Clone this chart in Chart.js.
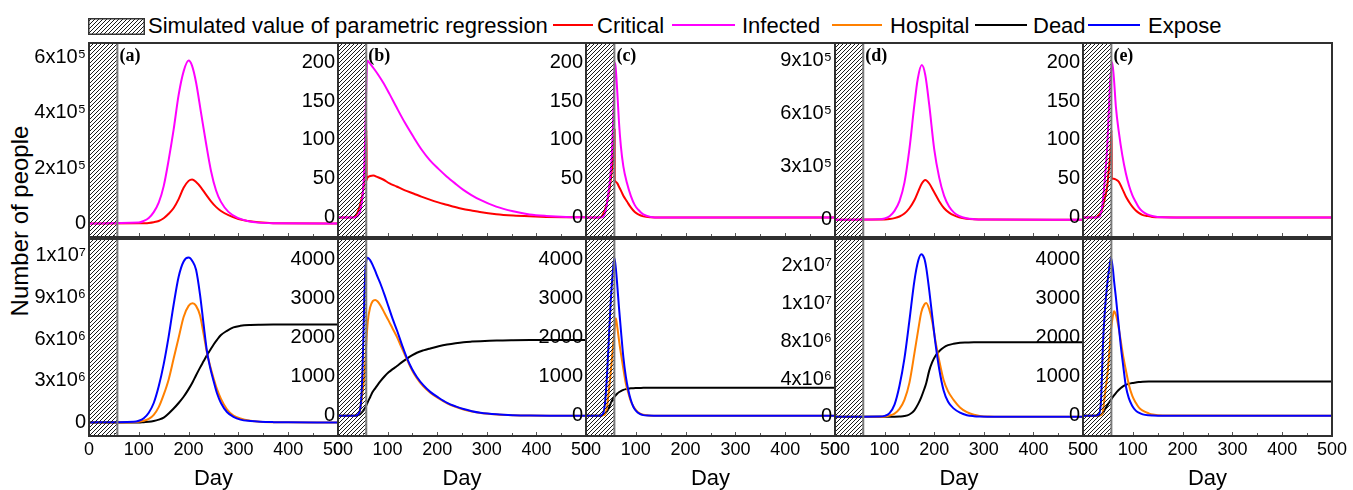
<!DOCTYPE html>
<html>
<head>
<meta charset="utf-8">
<script src="https://cdn.jsdelivr.net/npm/chart.js@4.4.0/dist/chart.umd.min.js"></script>
<style>
    body { margin: 0; background: #fff; width: 1353px; height: 490px; overflow: hidden; position: relative;
           font-family: "Liberation Sans", Arial, sans-serif; }
    canvas { position: absolute; }
    .leg { position: absolute; top: 15px; font-size: 22px; line-height: 22px; white-space: nowrap; color: #000; }
    .sw { position: absolute; top: 24px; height: 0; border-top: 2px solid; }
    #ytitle { position: absolute; left: 20px; top: 221px; font-size: 24px; line-height: 24px; white-space: nowrap;
              transform: translate(-50%, -50%) rotate(-90deg); }
</style>
</head>
<body>
<canvas id="legHatch" width="57" height="17" style="left:88px;top:18px"></canvas>
<div class="leg" style="left:148px">Simulated value of parametric regression</div>
<div class="sw" style="left:553px;width:40px;border-color:#ff0000"></div>
<div class="leg" style="left:597px">Critical</div>
<div class="sw" style="left:672px;width:63px;border-color:#ff00ff"></div>
<div class="leg" style="left:742px">Infected</div>
<div class="sw" style="left:832px;width:50px;border-color:#ff8000"></div>
<div class="leg" style="left:890px">Hospital</div>
<div class="sw" style="left:975px;width:52px;border-color:#000"></div>
<div class="leg" style="left:1033px">Dead</div>
<div class="sw" style="left:1088px;width:52px;border-color:#0000ff"></div>
<div class="leg" style="left:1148px">Expose</div>
<div id="ytitle">Number of people</div>
<script>
// ---- values ----
const HATCH_END = 57; // simulated (regression) window, days
const dayLabels = [0, 100, 200, 300, 400, 500];
const dayMarks = [0, 50, 100, 150, 200, 250, 300, 350, 400, 450, 500];

// top row: Infected / Critical
const daysA1 = [0, 100, 110, 120, 130, 140, 150, 160, 170, 180, 190, 200, 207, 215, 225, 235, 245, 255, 265, 280, 300, 320, 340, 370, 500];
const infectedA = [0, 3000, 9000, 20000, 41000, 75000, 135000, 230000, 340000, 465000, 550000, 589000, 570000, 510000, 400000, 290000, 190000, 120000, 78000, 42000, 19000, 8000, 3000, 1000, 0];
const criticalA = [0, 500, 1000, 2000, 4500, 9000, 19000, 35000, 56000, 88000, 129000, 154000, 159000, 150000, 130000, 104000, 80000, 60000, 45000, 30000, 16000, 9000, 4000, 1000, 0];

const daysB1 = [0, 30, 38, 42, 46, 50, 53, 55, 57.5, 57.6, 59, 65, 71, 80, 91, 104, 118, 135, 152, 168, 185, 202, 219, 236, 252, 269, 286, 319, 353, 386, 420, 460, 500];
const infectedB = [0, 0, 1, 4, 12, 30, 65, 110, 182, 184, 202, 198, 193, 185, 174, 159, 142, 122, 104, 88, 74, 63, 53, 44, 36, 29, 23, 14, 8, 4, 2, 0.7, 0.3];
const criticalB = [0, 0, 5, 11, 20, 32, 48, 68, 113, 48, 51, 53.5, 54, 52, 49, 44, 40, 35, 31, 27, 23, 19.5, 16.5, 13.5, 11, 9, 7, 4.2, 2.5, 1.5, 0.8, 0.4, 0.2];

const daysC1 = [0, 28, 34, 40, 44, 48, 52, 55, 57.5, 57.6, 58.5, 60, 63, 66, 70, 75, 82, 90, 98, 105, 115, 130, 150, 500];
const infectedC = [0, 0, 1, 10, 27, 48, 82, 134, 192, 193, 199, 190, 160, 125, 92, 66, 45, 28, 16, 10, 4, 0.8, 0, 0];
const criticalC = [0, 0, 4, 14, 25, 40, 62, 85, 113, 48, 47, 46, 44, 40, 35, 28, 21, 13, 7, 4, 1.5, 0.3, 0, 0];

const daysD1 = [0, 90, 100, 110, 120, 130, 140, 150, 160, 167, 175, 182, 190, 200, 210, 220, 230, 240, 250, 265, 280, 300, 500];
const infectedD = [0, 2000, 7000, 20000, 50000, 105000, 210000, 400000, 650000, 800000, 876000, 820000, 650000, 400000, 240000, 135000, 75000, 40000, 22000, 8000, 3000, 1000, 0];
const criticalD = [0, 500, 1500, 4000, 9000, 18000, 35000, 65000, 110000, 155000, 205000, 225000, 205000, 155000, 105000, 65000, 40000, 24000, 14000, 6000, 2500, 1000, 0];

const daysE1 = [0, 26, 33, 38, 42, 45, 48.7, 52, 55, 57.5, 57.6, 58.5, 62, 66, 72, 79, 86, 92.5, 99, 106, 112, 119, 129, 139, 159, 200, 500];
const infectedE = [0, 0, 1, 12, 35, 58, 92, 140, 180, 195, 196, 200, 180, 143, 110, 80, 57, 41, 29, 20, 13, 8, 4, 2, 0.3, 0, 0];
const criticalE = [0, 0, 4, 9, 20, 28, 40, 63, 82, 113, 50, 50, 50, 49, 46, 37, 27, 20, 14, 9, 6, 3.5, 2, 0.8, 0.2, 0, 0];

// bottom row: Expose / Hospital / Dead
const daysA2 = [0, 90, 100, 110, 120, 130, 140, 150, 160, 170, 180, 190, 200, 208, 215, 223, 230, 237, 243, 250, 257, 265, 277, 290, 304, 324, 344, 370, 400, 500];
const exposeA = [0, 50000, 120000, 300000, 700000, 1400000, 2600000, 4200000, 6200000, 8500000, 10500000, 11600000, 11880000, 11600000, 11000000, 9200000, 7100000, 5100000, 4000000, 3000000, 2100000, 1400000, 750000, 400000, 200000, 100000, 50000, 20000, 5000, 0];
const hospitalA = [0, 20000, 50000, 120000, 250000, 550000, 1100000, 2000000, 3100000, 4600000, 6100000, 7600000, 8400000, 8580000, 8400000, 7700000, 6400000, 5000000, 4100000, 3200000, 2400000, 1700000, 950000, 500000, 280000, 120000, 50000, 15000, 3000, 0];
const deadA = [0, 0, 0, 20000, 40000, 100000, 200000, 350000, 650000, 1000000, 1400000, 1850000, 2400000, 2900000, 3400000, 3950000, 4400000, 4850000, 5200000, 5600000, 5950000, 6300000, 6600000, 6850000, 6960000, 7020000, 7040000, 7050000, 7050000, 7050000];

const daysB2 = [0, 35, 42, 46, 49, 51, 53, 55, 57, 60, 65, 70, 75, 80, 86, 94, 102, 110, 119, 129, 139, 149, 159, 172, 186, 203, 220, 237, 253, 270, 287, 320, 353, 387, 430, 500];
const exposeB = [0, 0, 60, 300, 1000, 1900, 3000, 3700, 3950, 4040, 3970, 3850, 3700, 3540, 3360, 3080, 2780, 2480, 2178, 1810, 1470, 1200, 991, 780, 610, 460, 330, 240, 170, 115, 76, 35, 15, 5, 1, 0];
const hospitalB = [0, 0, 50, 250, 550, 750, 1000, 1330, 1850, 2400, 2780, 2930, 2960, 2920, 2810, 2620, 2430, 2230, 2008, 1720, 1440, 1170, 960, 750, 590, 440, 318, 228, 160, 108, 70, 30, 12, 4, 1, 0];
const deadB = [0, 0, 25, 60, 100, 130, 170, 210, 260, 350, 480, 610, 700, 790, 890, 1010, 1110, 1190, 1270, 1370, 1460, 1540, 1610, 1670, 1720, 1775, 1820, 1855, 1880, 1895, 1906, 1922, 1930, 1935, 1937, 1938];

const daysC2 = [0, 28, 32, 35, 38, 42, 46, 50, 54, 57, 60, 63, 66, 70, 75, 80, 85, 90, 95, 100, 108, 115, 125, 140, 160, 200, 500];
const exposeC = [0, 0, 20, 80, 300, 1000, 2000, 3000, 3700, 4040, 3750, 3300, 2800, 2200, 1500, 1000, 650, 400, 230, 130, 45, 15, 4, 1, 0, 0, 0];
const hospitalC = [0, 0, 5, 15, 40, 200, 650, 1150, 1750, 2150, 2490, 2250, 1950, 1600, 1200, 820, 580, 370, 240, 150, 60, 25, 8, 1, 0, 0, 0];
const deadC = [0, 0, 10, 25, 50, 110, 200, 330, 430, 480, 530, 570, 600, 630, 660, 680, 692, 700, 705, 708, 710, 712, 712, 712, 712, 712, 712];

const daysD2 = [0, 90, 100, 110, 120, 130, 140, 150, 160, 168, 174, 180, 184, 190, 196, 203, 210, 219, 228, 239, 252, 266, 280, 292, 310, 340, 500];
const exposeD = [0, 30000, 100000, 400000, 1300000, 3300000, 6200000, 10200000, 14400000, 16600000, 17250000, 16800000, 15800000, 13400000, 10700000, 7600000, 5100000, 2800000, 1600000, 900000, 450000, 180000, 70000, 30000, 10000, 0, 0];
const hospitalD = [0, 10000, 40000, 130000, 350000, 850000, 1800000, 3600000, 6700000, 9300000, 11100000, 11900000, 12070000, 11400000, 10100000, 7900000, 6000000, 3900000, 2700000, 1800000, 1000000, 500000, 220000, 100000, 30000, 10000, 0];
const deadD = [0, 0, 0, 10000, 20000, 40000, 80000, 250000, 700000, 1400000, 2100000, 2950000, 3600000, 4900000, 5800000, 6500000, 6950000, 7350000, 7600000, 7750000, 7850000, 7880000, 7900000, 7900000, 7900000, 7900000, 7900000];

const daysE2 = [0, 25, 30, 33, 36, 38, 40, 44, 49, 53, 56.3, 60, 62.3, 66, 71, 76, 81, 86, 92, 99, 106, 112, 120, 132, 140, 160, 500];
const exposeE = [0, 0, 20, 60, 350, 1000, 1800, 2700, 3400, 3800, 4040, 3750, 3450, 3030, 2400, 1770, 1250, 760, 450, 250, 130, 80, 35, 10, 5, 0, 0];
const hospitalE = [0, 0, 0, 5, 20, 40, 100, 550, 1050, 1650, 2200, 2550, 2670, 2580, 2290, 1900, 1500, 1170, 800, 505, 330, 212, 130, 60, 30, 3, 0];
const deadE = [0, 0, 0, 10, 20, 40, 70, 160, 270, 350, 410, 480, 520, 580, 650, 710, 755, 790, 815, 835, 848, 860, 868, 874, 876, 876, 876];

// y-axis ticks and their printed labels
const ticksSmall = [0, 50, 100, 150, 200];
const labelsSmall = ['0', '50', '100', '150', '200'];
const ticksA1 = [0, 200000, 400000, 600000];
const labelsA1 = ['0', '2x10⁵', '4x10⁵', '6x10⁵'];
const ticksD1 = [0, 300000, 600000, 900000];
const labelsD1 = ['0', '3x10⁵', '6x10⁵', '9x10⁵'];
const ticksBig = [0, 1000, 2000, 3000, 4000];
const labelsBig = ['0', '1000', '2000', '3000', '4000'];
const ticksA2 = [0, 3e6, 6e6, 9e6, 12e6];
const labelsA2 = ['0', '3x10⁶', '6x10⁶', '9x10⁶', '1x10⁷'];
const ticksD2 = [0, 4e6, 8e6, 12e6, 16e6];
const labelsD2 = ['0', '4x10⁶', '8x10⁶', '1x10⁷', '2x10⁷'];

const RED = '#ff0000', MAGENTA = '#ff00ff', ORANGE = '#ff8000', BLACK = '#000000', BLUE = '#0000ff';

Chart.defaults.font.family = '"Liberation Sans", Arial, sans-serif';
Chart.defaults.color = '#000';

// hatch tile for the regression window
const hatchTile = document.createElement('canvas');
hatchTile.width = 4;
hatchTile.height = 4;
const tctx = hatchTile.getContext('2d');
tctx.strokeStyle = '#1a1a1a';
tctx.lineWidth = 1;
tctx.beginPath();
tctx.moveTo(0, 4); tctx.lineTo(4, 0);
tctx.moveTo(-1, 1); tctx.lineTo(1, -1);
tctx.moveTo(3, 5); tctx.lineTo(5, 3);
tctx.stroke();

// legend swatch
const lh = document.getElementById('legHatch').getContext('2d');
lh.fillStyle = lh.createPattern(hatchTile, 'repeat');
lh.fillRect(0, 0, 57, 17);
lh.strokeStyle = '#333';
lh.lineWidth = 1.5;
lh.strokeRect(0.75, 0.75, 55.5, 15.5);

const panelDecor = {
    id: 'panelDecor',
    afterDatasetsDraw(chart, args, opts) {
        const {ctx, chartArea: a} = chart;
        const x = chart.scales.x;
        const x0 = x.getPixelForValue(0);
        const x1 = x.getPixelForValue(HATCH_END);
        ctx.save();
        ctx.fillStyle = ctx.createPattern(hatchTile, 'repeat');
        ctx.fillRect(x0, a.top, x1 - x0, a.bottom - a.top);
        ctx.strokeStyle = '#7a7a7a';
        ctx.lineWidth = 2;
        ctx.beginPath();
        ctx.moveTo(x1, a.top);
        ctx.lineTo(x1, a.bottom);
        ctx.stroke();

        // small inward day ticks along the bottom edge
        ctx.strokeStyle = '#555';
        ctx.lineWidth = 1;
        dayMarks.forEach((d) => {
            const px = Math.round(x.getPixelForValue(d)) + 0.5;
            ctx.beginPath();
            ctx.moveTo(px, a.bottom);
            ctx.lineTo(px, a.bottom - (d % 100 === 0 ? 4 : 3));
            ctx.stroke();
        });

        // frame: crisp 2px box on whole pixels
        ctx.strokeStyle = '#303030';
        ctx.lineWidth = 2;
        ctx.strokeRect(Math.round(a.left), Math.round(a.top), Math.round(a.right - a.left), Math.round(a.bottom - a.top));

        if (opts.tag) {
            ctx.font = 'bold 18px "Liberation Serif", "Times New Roman", serif';
            ctx.fillStyle = '#000';
            ctx.textBaseline = 'top';
            ctx.textAlign = 'left';
            ctx.fillText(opts.tag, x1 + 2, a.top + 4);
        }
        ctx.restore();
    }
};

function line(days, vals, color) {
    return {
        data: days.map((d, i) => ({x: d, y: vals[i]})),
        borderColor: color,
        borderWidth: 2,
        pointRadius: 0,
        fill: false,
        cubicInterpolationMode: 'monotone'
    };
}

const PLOT_LEFT = [89, 338, 586, 835, 1083, 1332];
const AXIS_W = 80, PAD_T = 14, PAD_R = 25, X_AXIS_H = 56;

function panel(col, row, datasets, yMin, yMax, yTicks, yLabels, tag) {
    const left = PLOT_LEFT[col];
    const width = PLOT_LEFT[col + 1] - left;
    const top = row === 0 ? 42 : 238;
    const height = row === 0 ? 196 : 198;
    const padB = row === 0 ? 14 : 0;
    const xAxisH = row === 0 ? 0 : X_AXIS_H;
    const canvas = document.createElement('canvas');
    canvas.width = AXIS_W + width + PAD_R;
    canvas.height = PAD_T + height + xAxisH + padB;
    canvas.style.left = (left - AXIS_W) + 'px';
    canvas.style.top = (top - PAD_T) + 'px';
    document.body.appendChild(canvas);

    new Chart(canvas, {
        type: 'line',
        data: {datasets: datasets},
        plugins: [panelDecor],
        options: {
            responsive: false,
            animation: false,
            events: [],
            layout: {padding: {top: PAD_T, right: PAD_R, bottom: padB, left: 0}},
            plugins: {
                legend: {display: false},
                tooltip: {enabled: false},
                panelDecor: {tag: tag}
            },
            scales: {
                x: {
                    type: 'linear',
                    min: 0,
                    max: 500,
                    display: row === 1,
                    afterBuildTicks: (s) => { s.ticks = dayLabels.map((v) => ({value: v})); },
                    afterFit: (s) => { s.height = xAxisH; },
                    grid: {display: false, drawTicks: false},
                    border: {display: false},
                    ticks: {padding: 3, autoSkip: false, maxRotation: 0, font: {size: 18}},
                    title: {display: true, text: 'Day', font: {size: 22}, padding: 0}
                },
                y: {
                    type: 'linear',
                    min: yMin,
                    max: yMax,
                    afterBuildTicks: (s) => { s.ticks = yTicks.map((v) => ({value: v})); },
                    afterFit: (s) => { s.width = AXIS_W; },
                    grid: {display: false, drawTicks: false},
                    border: {display: false},
                    ticks: {padding: 3, autoSkip: false, font: {size: 20}, callback: (v, i) => yLabels[i]}
                }
            }
        }
    });
}

// top row
panel(0, 0, [line(daysA1, infectedA, MAGENTA), line(daysA1, criticalA, RED)], -49000, 652700, ticksA1, labelsA1, '(a)');
panel(1, 0, [line(daysB1, infectedB, MAGENTA), line(daysB1, criticalB, RED)], -25.1, 224.9, ticksSmall, labelsSmall, '(b)');
panel(2, 0, [line(daysC1, infectedC, MAGENTA), line(daysC1, criticalC, RED)], -25.1, 224.9, ticksSmall, labelsSmall, '(c)');
panel(3, 0, [line(daysD1, infectedD, MAGENTA), line(daysD1, criticalD, RED)], -98000, 1001000, ticksD1, labelsD1, '(d)');
panel(4, 0, [line(daysE1, infectedE, MAGENTA), line(daysE1, criticalE, RED)], -25.1, 224.9, ticksSmall, labelsSmall, '(e)');

// bottom row
panel(0, 1, [line(daysA2, exposeA, BLUE), line(daysA2, hospitalA, ORANGE), line(daysA2, deadA, BLACK)], -980000, 13220000, ticksA2, labelsA2, null);
panel(1, 1, [line(daysB2, exposeB, BLUE), line(daysB2, hospitalB, ORANGE), line(daysB2, deadB, BLACK)], -518, 4516, ticksBig, labelsBig, null);
panel(2, 1, [line(daysC2, exposeC, BLUE), line(daysC2, hospitalC, ORANGE), line(daysC2, deadC, BLACK)], -518, 4516, ticksBig, labelsBig, null);
panel(3, 1, [line(daysD2, exposeD, BLUE), line(daysD2, hospitalD, ORANGE), line(daysD2, deadD, BLACK)], -2030000, 18860000, ticksD2, labelsD2, null);
panel(4, 1, [line(daysE2, exposeE, BLUE), line(daysE2, hospitalE, ORANGE), line(daysE2, deadE, BLACK)], -518, 4516, ticksBig, labelsBig, null);
</script>
</body>
</html>
